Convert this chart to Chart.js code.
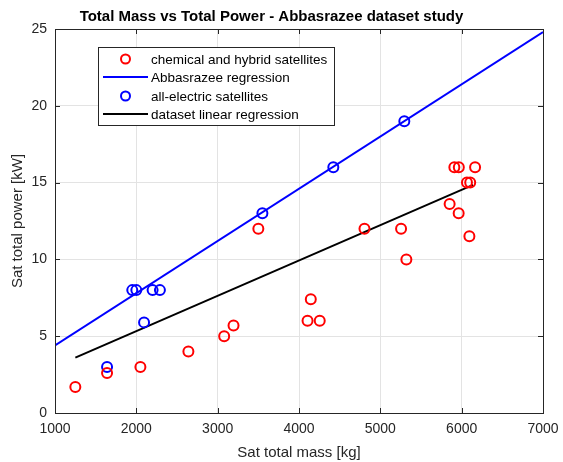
<!DOCTYPE html>
<html>
<head>
<meta charset="utf-8">
<script src="https://cdn.jsdelivr.net/npm/chart.js@4/dist/chart.umd.min.js"></script>
<style>
html,body{margin:0;padding:0;background:#fff;}
#wrap{width:563px;height:462px;}
</style>
</head>
<body>
<div id="wrap"><canvas id="c" width="563" height="462"></canvas></div>
<script>
// ---- data ----
const chemMass  = [1250, 1640, 2050, 2640, 3080, 3195, 3500, 4105, 4145, 4255, 4805, 5255, 5320, 5852, 5910, 5965, 5963, 6065, 6095, 6105, 6165];
const chemPower = [1.7,  2.6,  3.0,  4.0,  5.0,  5.7,  12.0, 6.0,  7.4,  6.0,  12.0, 12.0, 10.0, 13.6, 16.0, 16.0, 13.0, 15.0, 11.5, 15.0, 16.0];
const elecMass  = [1640, 1950, 2000, 2200, 2290, 2095, 3550, 4422, 5295];
const elecPower = [3.0,  8.0,  8.0,  8.0,  8.0,  5.9,  13.0, 16.0, 19.0];
const abbasMass  = [1000, 7000];
const abbasPower = [4.4, 24.8];
const fitMass  = [1250, 6140];
const fitPower = [3.6, 14.85];
const xTicks = [1000, 2000, 3000, 4000, 5000, 6000, 7000];
const yTicks = [0, 5, 10, 15, 20, 25];
const labels = ['chemical and hybrid satellites', 'Abbasrazee regression', 'all-electric satellites', 'dataset linear regression'];
const titleText = 'Total Mass vs Total Power - Abbasrazee dataset study';
const xTitle = 'Sat total mass [kg]';
const yTitle = 'Sat total power [kW]';

const pts = (xs, ys) => xs.map((x, i) => ({x: x, y: ys[i]}));
const FONT = "'Liberation Sans', Arial, Helvetica, sans-serif";
const AX = '#262626';

const frame = {
  id: 'frame',
  afterDraw(chart) {
    const {ctx, chartArea: a, scales} = chart;
    ctx.save();
    ctx.strokeStyle = AX;
    ctx.lineWidth = 1;
    ctx.beginPath();
    xTicks.forEach(v => {
      const x = Math.round(scales.x.getPixelForValue(v)) + 0.5;
      ctx.moveTo(x, a.bottom); ctx.lineTo(x, a.bottom - 5);
      ctx.moveTo(x, a.top); ctx.lineTo(x, a.top + 5);
    });
    yTicks.forEach(v => {
      const y = Math.round(scales.y.getPixelForValue(v)) + 0.5;
      ctx.moveTo(a.left, y); ctx.lineTo(a.left + 5, y);
      ctx.moveTo(a.right, y); ctx.lineTo(a.right - 5, y);
    });
    ctx.stroke();
    ctx.strokeRect(Math.round(a.left) + 0.5, Math.round(a.top) + 0.5, Math.round(a.right - a.left), Math.round(a.bottom - a.top));
    // legend box
    const bx = 98, by = 47, bw = 236, bh = 78;
    ctx.fillStyle = '#fff';
    ctx.fillRect(bx, by, bw, bh);
    ctx.strokeStyle = AX;
    ctx.strokeRect(bx + 0.5, by + 0.5, bw, bh);
    const rows = [59, 77, 96, 114];
    ctx.font = '13.5px ' + FONT;
    ctx.textBaseline = 'middle';
    ctx.textAlign = 'left';
    chart.data.datasets.forEach((ds, i) => {
      const y = rows[i];
      ctx.beginPath();
      ctx.strokeStyle = ds.borderColor;
      ctx.lineWidth = 2;
      if (ds.showLine === false) {
        ctx.arc(125.5, y, 4.5, 0, Math.PI * 2);
      } else {
        ctx.moveTo(103, y); ctx.lineTo(148, y);
      }
      ctx.stroke();
      ctx.fillStyle = '#000';
      ctx.fillText(ds.label, 151, y + 1);
    });
    ctx.restore();
  }
};

new Chart(document.getElementById('c'), {
  type: 'scatter',
  data: {
    datasets: [
      {label: labels[0], data: pts(chemMass, chemPower), showLine: false, borderColor: '#ff0000', backgroundColor: 'rgba(0,0,0,0)', borderWidth: 2, pointRadius: 5, pointHoverRadius: 5},
      {label: labels[1], data: pts(abbasMass, abbasPower), showLine: true, borderColor: '#0000ff', backgroundColor: '#0000ff', borderWidth: 2, pointRadius: 0, fill: false},
      {label: labels[2], data: pts(elecMass, elecPower), showLine: false, borderColor: '#0000ff', backgroundColor: 'rgba(0,0,0,0)', borderWidth: 2, pointRadius: 5, pointHoverRadius: 5},
      {label: labels[3], data: pts(fitMass, fitPower), showLine: true, borderColor: '#000000', backgroundColor: '#000000', borderWidth: 2, pointRadius: 0, fill: false}
    ]
  },
  options: {
    responsive: false,
    animation: false,
    events: [],
    layout: {padding: {left: 0, right: 20, top: 0, bottom: 0}},
    plugins: {
      legend: {display: false},
      tooltip: {enabled: false},
      title: {display: true, text: titleText, color: '#000', font: {family: FONT, size: 15, weight: 'bold'}, padding: {top: 8, bottom: 3}}
    },
    scales: {
      x: {
        type: 'linear', min: 1000, max: 7000,
        afterBuildTicks: s => { s.ticks = xTicks.map(v => ({value: v})); },
        afterFit: s => { s.height = 49; s.paddingRight = 0; s.paddingLeft = 0; },
        grid: {color: '#e3e3e3', drawTicks: false, lineWidth: 1},
        border: {display: false},
        ticks: {color: AX, padding: 8, font: {family: FONT, size: 14}, maxRotation: 0, callback: v => String(v)},
        title: {display: true, text: xTitle, color: AX, font: {family: FONT, size: 15}, padding: {top: 0, bottom: 0}}
      },
      y: {
        type: 'linear', min: 0, max: 25,
        afterBuildTicks: s => { s.ticks = yTicks.map(v => ({value: v})); },
        afterFit: s => { s.width = 55; },
        grid: {color: '#e3e3e3', drawTicks: false, lineWidth: 1},
        border: {display: false},
        ticks: {color: AX, padding: 8, font: {family: FONT, size: 14}, callback: v => String(v)},
        title: {display: true, text: yTitle, color: AX, font: {family: FONT, size: 15}, padding: {top: 9, bottom: 0}}
      }
    }
  },
  plugins: [frame]
});
</script>
</body>
</html>
